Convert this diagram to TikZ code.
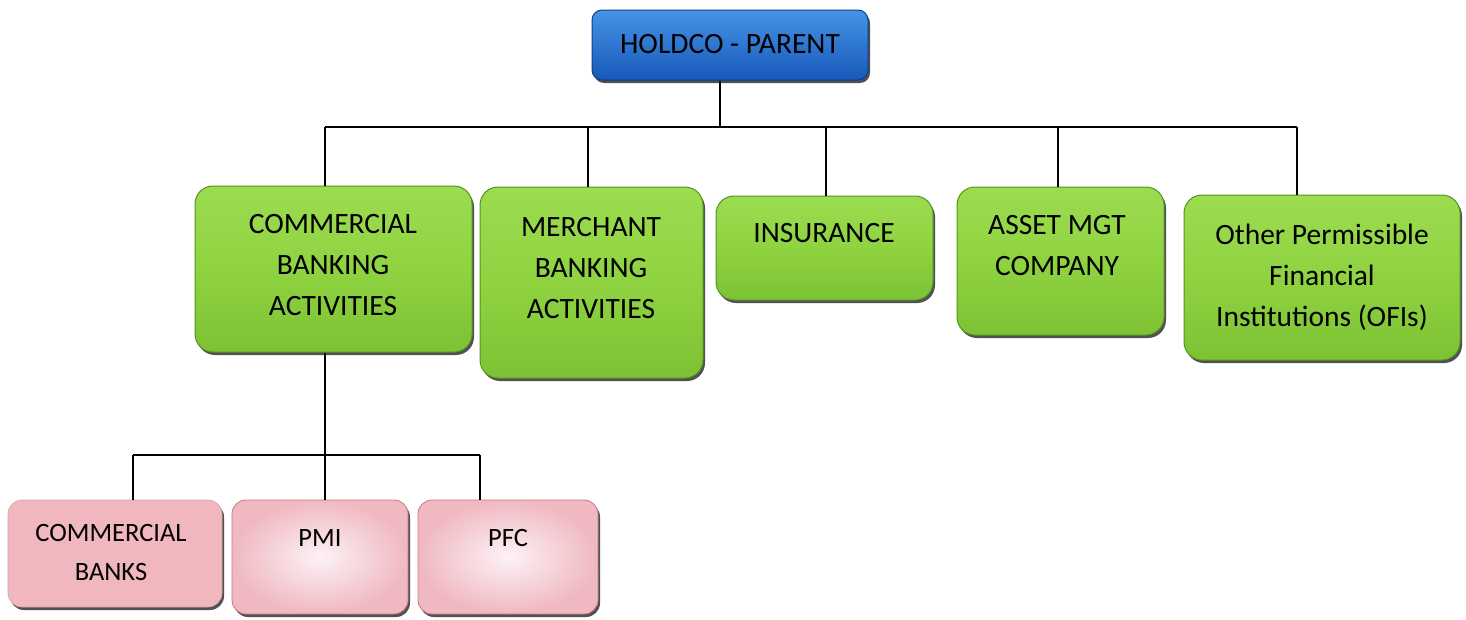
\documentclass[tikz,border=0pt]{standalone}
\usepackage{fontspec}
\setmainfont{Carlito}
\usetikzlibrary{shadows,calc}
\definecolor{bluetop}{HTML}{4594E6}
\definecolor{bluebot}{HTML}{1858BA}
\definecolor{blueedge}{HTML}{0E3F86}
\definecolor{greentop}{HTML}{9CDC50}
\definecolor{greenmid}{HTML}{8FD341}
\definecolor{greenbot}{HTML}{7DC234}
\definecolor{greenedge}{HTML}{559420}
\definecolor{pinkin}{HTML}{FCF2F6}
\definecolor{pinkout}{HTML}{F0B8C1}
\definecolor{pinkedge}{HTML}{C97884}
\definecolor{pinkflat}{HTML}{F1B7BF}
\tikzset{
  x=1pt, y=-1pt,
  conn/.style={draw=black, line width=1.4pt},
  boxbase/.style={rounded corners=18pt, inner sep=0pt,
    drop shadow={shadow xshift=2pt, shadow yshift=-3pt, opacity=0.8, fill=black!85}},
  bluebox/.style={boxbase, rounded corners=10pt, draw=blueedge, line width=1pt,
    top color=bluetop, bottom color=bluebot},
  greenbox/.style={boxbase, draw=greenedge, line width=1pt,
    top color=greentop, bottom color=greenbot, middle color=greenmid},
  pinkbox/.style={boxbase, rounded corners=14pt, draw=pinkedge, line width=0.8pt,
    inner color=pinkin, outer color=pinkout},
  flatpink/.style={boxbase, rounded corners=14pt, draw=pinkedge!70, line width=0.6pt, fill=pinkflat},
  bigtxt/.style={align=center, inner sep=0pt, text=black, font=\fontsize{29.5}{41}\selectfont},
  smalltxt/.style={align=center, inner sep=0pt, text=black, font=\fontsize{26.5}{39}\selectfont},
}
\begin{document}
\begin{tikzpicture}
\useasboundingbox (0,0) rectangle (1466,619);
\fill[white] (0,0) rectangle (1466,619);

% boxes
\node[bluebox, minimum width=276pt, minimum height=70pt] (holdco) at (730,45) {};
\node[greenbox, minimum width=277pt, minimum height=166pt] (cba) at (333.5,269) {};
\node[greenbox, minimum width=223pt, minimum height=191pt] (mba) at (591.5,282.5) {};
\node[greenbox, minimum width=217pt, minimum height=104pt] (ins) at (824.5,248) {};
\node[greenbox, minimum width=207pt, minimum height=148pt] (amc) at (1060.5,261) {};
\node[greenbox, minimum width=276pt, minimum height=165pt] (ofi) at (1322,277.5) {};
\node[flatpink, minimum width=214pt, minimum height=107pt] (cb) at (115,553.5) {};
\node[pinkbox, minimum width=176pt, minimum height=114pt] (pmi) at (320,557) {};
\node[pinkbox, minimum width=180pt, minimum height=114pt] (pfc) at (508,557) {};

% texts
\node[bigtxt] (holdcot) at (730,44) {HOLDCO - PARENT};
\node[bigtxt] (cbat) at (333,265) {COMMERCIAL\\BANKING\\ACTIVITIES};
\node[bigtxt] (mbat) at (591,268) {MERCHANT\\BANKING\\ACTIVITIES};
\node[bigtxt] (inst) at (824,233) {INSURANCE};
\node[bigtxt] (amct) at (1057,246) {ASSET MGT\\COMPANY};
\node[bigtxt] (ofit) at (1322,277) {Other Permissible\\Financial\\Institutions (OFIs)};
\node[smalltxt] (cbt) at (111,552) {COMMERCIAL\\BANKS};
\node[smalltxt] (pmit) at (320,538) {PMI};
\node[smalltxt] (pfct) at (508,538) {PFC};

% connectors
\coordinate (trunk) at (720,127);
\coordinate (b1) at (325,127);
\coordinate (b2) at (588,127);
\coordinate (b3) at (826,127);
\coordinate (b4) at (1058,127);
\coordinate (b5) at (1297,127);
\draw[conn] (holdco.south -| trunk) -- (trunk);
\draw[conn] (b1) -- (b5);
\draw[conn] (b1) -- (b1 |- cba.north);
\draw[conn] (b2) -- (b2 |- mba.north);
\draw[conn] (b3) -- (b3 |- ins.north);
\draw[conn] (b4) -- (b4 |- amc.north);
\draw[conn] (b5) -- (b5 |- ofi.north);

\coordinate (d1) at (133,455);
\coordinate (d2) at (325,455);
\coordinate (d3) at (480,455);
\draw[conn] (cba.south -| d2) -- (d2);
\draw[conn] (d1) -- (d3);
\draw[conn] (d1) -- (d1 |- cb.north);
\draw[conn] (d2) -- (d2 |- pmi.north);
\draw[conn] (d3) -- (d3 |- pfc.north);
\end{tikzpicture}
\end{document}
